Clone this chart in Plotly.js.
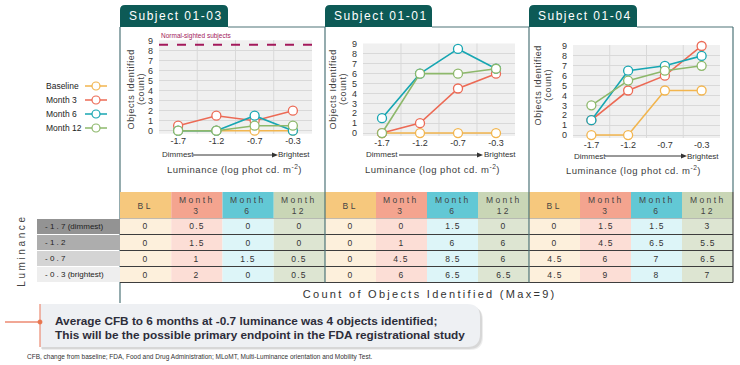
<!DOCTYPE html>
<html><head><meta charset="utf-8">
<script src="https://cdn.plot.ly/plotly-3.0.1.min.js"></script>
<style>html,body{margin:0;padding:0;background:#fff}#chart{width:740px;height:365px}</style>
</head><body><div id="chart"></div>
<script>
// ---------- data ----------
const luminance = ['-1.7','-1.2','-0.7','-0.3'];
const rowLabels = ['- 1 . 7 (dimmest)','- 1 . 2','- 0 . 7','- 0 . 3 (brightest)'];
const seriesNames = ['Baseline','Month 3','Month 6','Month 12'];
const headerLabels = ['BL','Month<br>3','Month<br>6','Month<br>12'];
const subjects = ['Subject 01-03','Subject 01-01','Subject 01-04'];
const normalSighted = 8.6;
const yTicks = [0,1,2,3,4,5,6,7,8,9];

const s0103_baseline = [0,0,0,0];
const s0103_month3   = [0.5,1.5,1,2];
const s0103_month6   = [0,0,1.5,0];
const s0103_month12  = [0,0,0.5,0.5];
const s0101_baseline = [0,0,0,0];
const s0101_month3   = [0,1,4.5,6];
const s0101_month6   = [1.5,6,8.5,6.5];
const s0101_month12  = [0,6,6,6.5];
const s0104_baseline = [0,0,4.5,4.5];
const s0104_month3   = [1.5,4.5,6,9];
const s0104_month6   = [1.5,6.5,7,8];
const s0104_month12  = [3,5.5,6.5,7];

const subjectData = [
  [s0103_baseline, s0103_month3, s0103_month6, s0103_month12],
  [s0101_baseline, s0101_month3, s0101_month6, s0101_month12],
  [s0104_baseline, s0104_month3, s0104_month6, s0104_month12]
];

const calloutLines = ['Average CFB to 6 months at -0.7 luminance was 4 objects identified;',
                      'This will be the possible primary endpoint in the FDA registrational study'];
const footnote = 'CFB, change from baseline; FDA, Food and Drug Administration; MLoMT, Multi-Luminance orientation and Mobility Test.';

// ---------- style ----------
const W = 740, H = 365;
const X = p => p / W, Y = p => 1 - p / H;
const FONT = 'Arial, "Liberation Sans", sans-serif';
const lineColors = ['#f2b54e','#ec6a55','#17a6b2','#8db86b'];
const headFill = ['#f6c87d','#f4a48f','#62c8d5','#c9d6b6'];
const bodyFill = ['#fdf0dc','#fcded6','#ddf5f8','#dde5d2'];
const rowFill  = ['#939393','#adadad','#d4d4d4','#eeeeee'];
const TAB = '#0d5a56';
const BORDER = '#4e7478';

const panels = [
  {tab:[120,228], tabText:127, plotX:[159,312], plotY:[40.2,133.7], yr:[-0.3,9.05], yt:[131,141], ytY:89,
   dimL:160, arr:[193,278], brR:312, dimY:155, lumX:235, lumY:169},
  {tab:[325,432], tabText:332, plotX:[363,515], plotY:[43.5,136], yr:[-0.3,9.05], yt:[333,343], ytY:89,
   dimL:364, arr:[399,483], brR:518, dimY:155, lumX:432, lumY:169},
  {tab:[529,637], tabText:536, plotX:[573,720], plotY:[45,138], yr:[-0.3,9.1], yt:[538,548], ytY:85,
   dimL:572, arr:[605,687], brR:721, dimY:156, lumX:633, lumY:170}
];

const traces = [], shapes = [], ann = [], letterSp = [];
const layout = {width:W, height:H, margin:{l:0,r:0,t:0,b:0}, paper_bgcolor:'#ffffff', plot_bgcolor:'#f0f0f0',
  showlegend:false, font:{family:FONT}, shapes, annotations:ann};

function T(text, x, y, o) {
  o = o || {};
  const a = {text, x:X(x), y:Y(y), xref:'paper', yref:'paper', showarrow:false,
    xanchor:o.xanchor||'center', yanchor:o.yanchor||'middle', align:o.align||'center',
    font:Object.assign({family:FONT, size:9, color:'#333'}, o.font||{})};
  if (o.textangle !== undefined) a.textangle = o.textangle;
  letterSp[ann.length] = o.ls || 0;
  ann.push(a);
}
function rect(x0,y0,x1,y1,fill,line,layer) {
  shapes.push({type:'rect', xref:'paper', yref:'paper', x0:X(x0), x1:X(x1), y0:Y(y1), y1:Y(y0),
    fillcolor:fill, line:line||{width:0}, layer:layer||'above'});
}
function seg(x0,y0,x1,y1,color,width,dash) {
  shapes.push({type:'line', xref:'paper', yref:'paper', x0:X(x0), x1:X(x1), y0:Y(y0), y1:Y(y1),
    line:{color, width:width||1, dash:dash||'solid'}});
}
function path(d, fill, line) {
  shapes.push({type:'path', xref:'paper', yref:'paper', path:d, fillcolor:fill, line:line||{width:0}});
}
function circ(cx,cy,r,fill,lc,lw) {
  shapes.push({type:'circle', xref:'paper', yref:'paper', x0:X(cx-r), x1:X(cx+r), y0:Y(cy+r), y1:Y(cy-r),
    fillcolor:fill, line:{color:lc, width:lw}});
}

// ---------- panels ----------
panels.forEach((p, s) => {
  const xa = 'x' + (s ? s+1 : ''), ya = 'y' + (s ? s+1 : '');
  layout['xaxis' + (s ? s+1 : '')] = {domain:[X(p.plotX[0]), X(p.plotX[1])], anchor:ya, type:'category',
    range:[-0.5,3.5], showgrid:false, zeroline:false, showline:false, ticks:'', fixedrange:true,
    tickfont:{size:9, color:'#333', family:FONT}};
  layout['yaxis' + (s ? s+1 : '')] = {domain:[Y(p.plotY[1]), Y(p.plotY[0])], anchor:xa, range:p.yr,
    tickmode:'array', tickvals:yTicks, showgrid:true, gridcolor:'#d9d9d9', gridwidth:1, zeroline:false,
    showline:false, ticks:'', ticklabelstandoff:5, fixedrange:true, tickfont:{size:9, color:'#333', family:FONT}};
  [0.5,1.5,2.5].forEach(v => shapes.push({type:'line', xref:xa, yref:ya + ' domain', x0:v, x1:v, y0:0, y1:1,
    line:{color:'#d9d9d9', width:1}, layer:'below'}));
  subjectData[s].forEach((vals, k) => {
    traces.push({x:luminance, y:vals, xaxis:xa, yaxis:ya, type:'scatter', mode:'lines+markers',
      name:seriesNames[k], cliponaxis:false,
      line:{color:lineColors[k], width:1.6},
      marker:{size:9, color:'#ffffff', line:{color:lineColors[k], width:1.3}}});
  });
  const [t0,t1] = p.tab, r = 5, ty0 = 5, ty1 = 27;
  path(`M ${X(t0)},${Y(ty1)} L ${X(t0)},${Y(ty0+r)} Q ${X(t0)},${Y(ty0)} ${X(t0+r)},${Y(ty0)} L ${X(t1-r)},${Y(ty0)} Q ${X(t1)},${Y(ty0)} ${X(t1)},${Y(ty0+r)} L ${X(t1)},${Y(ty1)} Z`, TAB);
  T(subjects[s], p.tabText, 16.5, {xanchor:'left', align:'left', font:{size:12, color:'#ffffff'}, ls:1.5});
  T('Objects Identified', p.yt[0], p.ytY, {textangle:-90, font:{size:9, color:'#404040'}, ls:0.6});
  T('(count)', p.yt[1], p.ytY, {textangle:-90, font:{size:9, color:'#404040'}, ls:0.6});
  T('Dimmest', p.dimL, p.dimY, {xanchor:'left', align:'left', font:{size:8, color:'#333'}});
  T('Brightest', p.brR, p.dimY, {xanchor:'right', align:'right', font:{size:8, color:'#333'}});
  seg(p.arr[0], p.dimY, p.arr[1]-4, p.dimY, '#333', 1);
  path(`M ${X(p.arr[1]-6)},${Y(p.dimY-2.5)} L ${X(p.arr[1])},${Y(p.dimY)} L ${X(p.arr[1]-6)},${Y(p.dimY+2.5)} Z`, '#333');
  T('Luminance (log phot cd. m<sup>-2</sup>)', p.lumX, p.lumY, {font:{size:9.5, color:'#404040'}, ls:0.5});
});

shapes.push({type:'line', xref:'x domain', yref:'y', x0:0, x1:1, y0:normalSighted, y1:normalSighted,
  line:{color:'#a3195b', width:2, dash:'dash'}});
T('Normal-sighted subjects', 159, 36, {xanchor:'left', align:'left', font:{size:6.5, color:'#a3195b'}});

seg(120, 27, 120, 303, BORDER, 1.2);
seg(228, 27, 325, 27, BORDER, 1.2);
seg(432, 27, 529, 27, BORDER, 1.2);
seg(637, 27, 733, 27, BORDER, 1.2);
seg(733, 27, 733, 192, BORDER, 1.2);

// ---------- legend ----------
const legY = [86, 100, 114, 128];
seriesNames.forEach((n, k) => {
  T(n, 44, legY[k], {xanchor:'left', align:'left', font:{size:8.5, color:'#222'}});
  seg(85, legY[k], 107, legY[k], lineColors[k], 1.5);
  circ(96, legY[k], 4, '#ffffff', lineColors[k], 1.2);
});

// ---------- table ----------
const groupLeft = [120, 325, 529], groupRight = [325, 529, 733];
const headTop = 192, headBot = 218.5, rowH = 16;
groupLeft.forEach((g0, s) => {
  const cw = (groupRight[s] - g0) / 4;
  headerLabels.forEach((h, k) => {
    const c0 = g0 + k*cw, c1 = c0 + cw;
    rect(c0, headTop, c1, headBot, headFill[k]);
    T(h, (c0+c1)/2, (headTop+headBot)/2 + 0.5, {font:{size:8.5, color:'#444'}, ls:2.4});
    subjectData[s][k].forEach((v, i) => {
      const r0 = headBot + i*rowH;
      rect(c0, r0, c1, r0 + rowH, bodyFill[k]);
      T(String(v), (c0+c1)/2, r0 + rowH/2, {font:{size:8.5, color:'#333'}, ls:1.2});
    });
  });
});
rowLabels.forEach((lab, i) => {
  const r0 = headBot + i*rowH;
  rect(37, r0 + 0.5, 120, r0 + rowH - 0.5, rowFill[i]);
  T(lab, 43, r0 + rowH/2, {xanchor:'left', align:'left', font:{size:8, color:'#222'}});
});
for (let i = 0; i <= 4; i++) {
  const yy = headBot + i*rowH;
  seg(120, yy, 733, yy, i === 0 ? '#9a9a9a' : '#3d3d3d', i === 0 ? 0.6 : 1.2);
}
seg(325, 27, 325, headBot + 4*rowH, BORDER, 1.2);
seg(529, 27, 529, headBot + 4*rowH, BORDER, 1.2);
seg(733, headTop, 733, headBot + 4*rowH, '#3d3d3d', 1.2);
T('Luminance', 22, 251, {textangle:-90, font:{size:10, color:'#444'}, ls:2.6});
T('Count of Objects Identified (Max=9)', 430, 294, {font:{size:11, color:'#333'}, ls:2.3});

// ---------- callout ----------
function roundRight(x0,y0,x1,y1,r){
  return `M ${X(x0)},${Y(y0)} L ${X(x1-r)},${Y(y0)} Q ${X(x1)},${Y(y0)} ${X(x1)},${Y(y0+r)} L ${X(x1)},${Y(y1-r)} Q ${X(x1)},${Y(y1)} ${X(x1-r)},${Y(y1)} L ${X(x0)},${Y(y1)} Z`;
}
path(roundRight(42,307,483,350,13), 'rgba(0,0,0,0.07)');
path(roundRight(41,306,482,349,13), 'rgba(0,0,0,0.09)');
path(roundRight(40,304,480,347,13), '#eef0f3');
seg(40, 304, 40, 347, '#ec8a72', 1.2);
seg(5, 322, 40, 322, '#ec8a72', 1.5);
circ(40, 322, 2.2, '#e9764f', '#e9764f', 0.5);
T(calloutLines[0], 53, 321, {xanchor:'left', align:'left', font:{size:11.8, color:'#2d2d3a', weight:'bold'}});
T(calloutLines[1], 53, 335, {xanchor:'left', align:'left', font:{size:11.8, color:'#2d2d3a', weight:'bold'}});
T(footnote, 25, 357, {xanchor:'left', align:'left', font:{size:6.5, color:'#333'}});

Plotly.newPlot('chart', traces, layout, {staticPlot:true, displayModeBar:false}).then(gd => {
  gd.querySelectorAll('g.annotation').forEach(g => {
    const i = +g.getAttribute('data-index');
    const ls = letterSp[i];
    if (ls) g.querySelectorAll('text').forEach(t => t.setAttribute('letter-spacing', ls));
  });
});
</script>
</body></html>
